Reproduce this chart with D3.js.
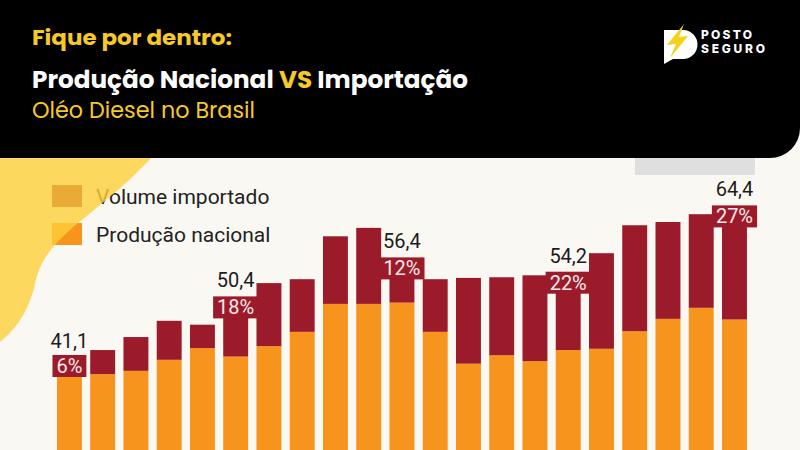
<!DOCTYPE html>
<html>
<head>
<meta charset="utf-8">
<script src="https://cdn.jsdelivr.net/npm/d3@7"></script>
<style>
  html, body { margin: 0; padding: 0; background: #faf8f3; }
  svg { display: block; }
</style>
</head>
<body>
<svg id="chart" width="800" height="450"></svg>
<script>
// ---- data ----
const years = ["2002","2003","2004","2005","2006","2007","2008","2009","2010","2011","2012",
               "2013","2014","2015","2016","2017","2018","2019","2020","2021","2022"];
const producaoNacional = [38.6, 38.6, 39.1, 40.8, 42.6, 41.3, 42.9, 45.1, 49.4, 49.4, 49.6,
                          45.1, 40.2, 41.5, 40.6, 42.3, 42.5, 45.2, 47.1, 48.8, 47.0];
const volumeImportado  = [2.5, 3.7, 5.2, 6.0, 3.6, 9.1, 9.7, 8.1, 10.4, 11.7, 6.8,
                          8.1, 13.2, 12.0, 13.2, 11.9, 14.7, 16.3, 14.9, 14.4, 17.4];
const highlighted = ["2002", "2007", "2012", "2017", "2022"];
const legendLabels = ["Volume importado", "Produção nacional"];
const titleKicker = "Fique por dentro:";
const titleParts = ["Produção Nacional ", "VS", " Importação"];
const subtitle = "Oléo Diesel no Brasil";

// ---- style ----
const C = { bg: "#faf8f3", black: "#000", yellow: "#f6c928", red: "#9c1b2a", orange: "#f7941e",
            blob: "#fdcf3a", text: "#1c1c1c" };

const svg = d3.select("#chart");
const W = 800, H = 450;
svg.append("rect").attr("width", W).attr("height", H).attr("fill", C.bg);

// scales
const x = d3.scaleBand().domain(years).range([52.8, 751.1]).paddingInner(0.25).paddingOuter(0.125);
const y = d3.scaleLinear().domain([0, 70]).range([625, 170]);

const rows = years.map((yr, i) => ({
  year: yr, nat: producaoNacional[i], imp: volumeImportado[i],
  total: +(producaoNacional[i] + volumeImportado[i]).toFixed(1)
}));

// grey tab under header
svg.append("rect").attr("x", 635).attr("y", 150).attr("width", 120).attr("height", 25).attr("fill", "#dfdfdf");

// ---- legend ----
const lg = svg.append("g").attr("font-family", "Roboto, sans-serif").attr("font-size", 21).attr("fill", "#222");
const legendColors = [C.red, C.orange];
legendLabels.forEach((lab, i) => {
  lg.append("rect").attr("x", 52).attr("y", 185 + i * 38).attr("width", 30).attr("height", 22).attr("fill", legendColors[i]);
  lg.append("text").attr("x", 96).attr("y", 204 + i * 38).text(lab);
});

// ---- yellow blob (on top of legend, semi-transparent) ----
svg.append("path")
  .attr("d", "M0,150 H158 C135,178 100,205 72,228 C52,246 40,260 35,284 C30,306 20,326 0,342 Z")
  .attr("fill", C.blob).attr("opacity", 0.8);

// ---- bars ----
const bars = svg.append("g");
bars.selectAll("rect.nat").data(rows).join("rect").attr("class", "nat")
  .attr("x", d => x(d.year)).attr("width", x.bandwidth())
  .attr("y", d => y(d.nat)).attr("height", d => y(0) - y(d.nat))
  .attr("fill", C.orange);
bars.selectAll("rect.imp").data(rows).join("rect").attr("class", "imp")
  .attr("x", d => x(d.year)).attr("width", x.bandwidth())
  .attr("y", d => y(d.total)).attr("height", d => y(d.nat) - y(d.total))
  .attr("fill", C.red);

// ---- labels ----
const fmt = v => d3.format(".1f")(v).replace(".", ",");
const hl = rows.filter(d => highlighted.includes(d.year));
const lab = svg.append("g").attr("font-family", "Roboto, sans-serif").attr("font-size", 20);

hl.forEach(d => {
  const cx = x(d.year) + x.bandwidth() / 2;
  const midY = (y(d.total) + y(d.nat)) / 2;
  const pct = Math.round(d.imp / d.total * 100) + "%";
  const g = lab.append("g");
  const box = g.append("rect").attr("fill", C.red);
  const t = g.append("text").attr("x", cx).attr("y", midY + 7).attr("text-anchor", "middle")
    .attr("fill", "#f6e9ea").text(pct);
  const w = t.node().getComputedTextLength() + 8;
  const top = Math.min(midY - 11, y(d.total) - 1);
  box.attr("x", cx - w / 2).attr("y", top).attr("width", w).attr("height", 22);
  t.attr("y", top + 18);
  lab.append("text").attr("x", cx).attr("y", y(d.total) - 10).attr("text-anchor", "middle")
    .attr("fill", C.text).text(fmt(d.total));
});

// ---- header ----
svg.append("path").attr("d", "M0,0 H800 V128 A30,30 0 0 1 770,158 H0 Z").attr("fill", C.black);

const hf = "Poppins, Inter, 'Noto Sans', sans-serif";
svg.append("text").attr("x", 32).attr("y", 45).attr("font-family", hf).attr("font-weight", 700)
  .attr("font-size", 21.5).attr("fill", C.yellow).attr("textLength", 200).attr("lengthAdjust", "spacingAndGlyphs").text(titleKicker);
const tt = svg.append("text").attr("x", 32).attr("y", 88).attr("font-family", hf).attr("font-weight", 700)
  .attr("font-size", 24.5).attr("textLength", 436).attr("lengthAdjust", "spacingAndGlyphs");
titleParts.forEach((p, i) => tt.append("tspan").attr("fill", i === 1 ? C.yellow : "#fff").text(p));
svg.append("text").attr("x", 32).attr("y", 118).attr("font-family", hf).attr("font-weight", 400)
  .attr("font-size", 23).attr("fill", C.yellow).attr("textLength", 223).attr("lengthAdjust", "spacingAndGlyphs").text(subtitle);

// ---- logo ----
const logo = svg.append("g");
logo.append("path").attr("d", "M664,30 H683 A14.5,14.5 0 0 1 683,59 H673 L664,64 Z").attr("fill", "#fff");
logo.append("path").attr("d", "M684,24 L667,45 L676,44 L670,58 L688,36 L679,37 Z").attr("fill", "#f3d21c");
logo.append("text").attr("x", 701).attr("y", 38.5).attr("font-family", "Inter, sans-serif").attr("font-weight", 800)
  .attr("font-size", 12).attr("fill", "#fff").attr("textLength", 51).text("POSTO");
logo.append("text").attr("x", 701).attr("y", 52.5).attr("font-family", "Inter, sans-serif").attr("font-weight", 800)
  .attr("font-size", 12).attr("fill", "#fff").attr("textLength", 64).text("SEGURO");
</script>
</body>
</html>
